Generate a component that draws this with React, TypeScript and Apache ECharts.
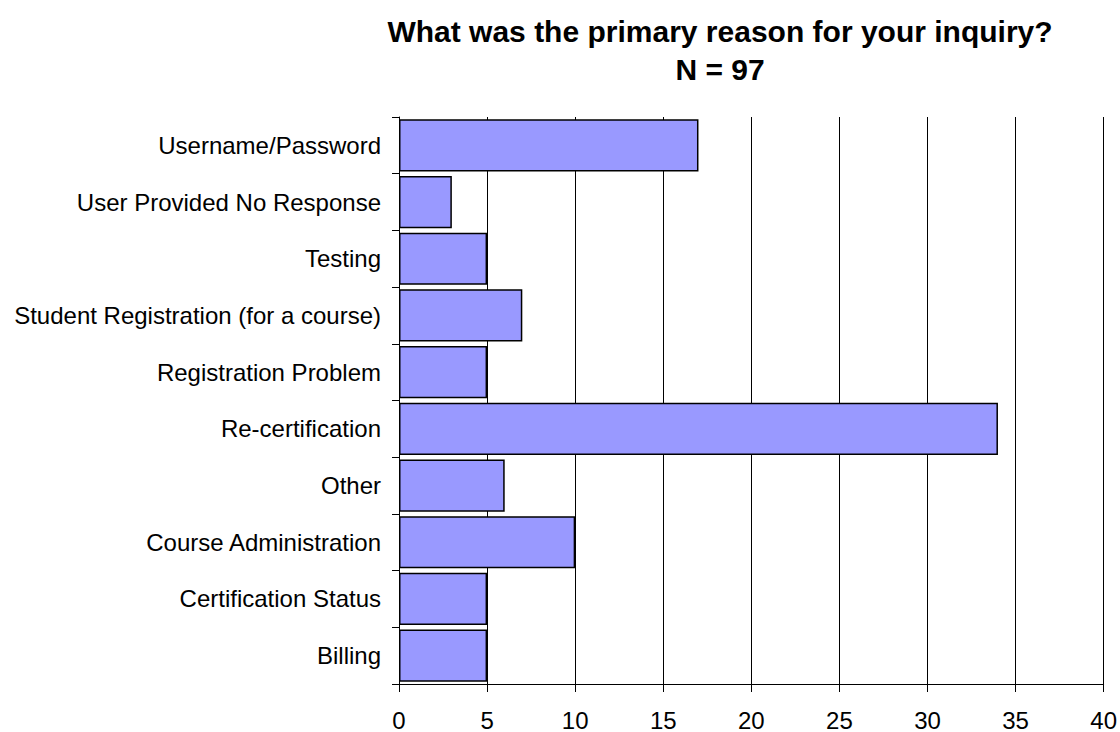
import React, { useEffect, useRef } from "react";
import * as echarts from "echarts";

const categories = [
  "Username/Password",
  "User Provided No Response",
  "Testing",
  "Student Registration (for a course)",
  "Registration Problem",
  "Re-certification",
  "Other",
  "Course Administration",
  "Certification Status",
  "Billing",
];
const values = [17, 3, 5, 7, 5, 34, 6, 10, 5, 5];
const titleText = "What was the primary reason for your inquiry?\nN = 97";

export default function App() {
  const ref = useRef<HTMLDivElement>(null);
  useEffect(() => {
    const chart = echarts.init(ref.current!, null, { renderer: "svg" });
    chart.setOption({
      animation: false,
      backgroundColor: "#ffffff",
      title: {
        text: titleText,
        left: 715,
        top: 7,
        textAlign: "center",
        textStyle: {
          fontFamily: "Liberation Sans, Arial, sans-serif",
          fontSize: 30,
          fontWeight: "bold",
          color: "#000",
          lineHeight: 38,
        },
      },
      grid: { left: 399, right: 16, top: 117, bottom: 44, containLabel: false },
      xAxis: {
        type: "value",
        min: 0,
        max: 40,
        interval: 5,
        axisLine: { show: true, lineStyle: { color: "#000", width: 1 } },
        axisTick: { show: true, length: 8, lineStyle: { color: "#000" } },
        splitLine: { show: true, lineStyle: { color: "#000", width: 1 } },
        axisLabel: {
          fontFamily: "Liberation Sans, Arial, sans-serif",
          fontSize: 24,
          color: "#000",
          margin: 24,
        },
      },
      yAxis: {
        type: "category",
        data: categories,
        inverse: true,
        axisLine: { show: true, lineStyle: { color: "#000", width: 1 } },
        axisTick: { show: true, length: 7, lineStyle: { color: "#000" } },
        axisLabel: {
          fontFamily: "Liberation Sans, Arial, sans-serif",
          fontSize: 24,
          color: "#000",
          margin: 18,
        },
      },
      series: [
        {
          type: "bar",
          data: values,
          barCategoryGap: "8%",
          itemStyle: { color: "#9999FF", borderColor: "#000", borderWidth: 1.5 },
        },
      ],
    });
    return () => chart.dispose();
  }, []);
  return (
    <div
      ref={ref}
      style={{ position: "fixed", left: 0, top: 0, width: 1120, height: 732 }}
    />
  );
}
